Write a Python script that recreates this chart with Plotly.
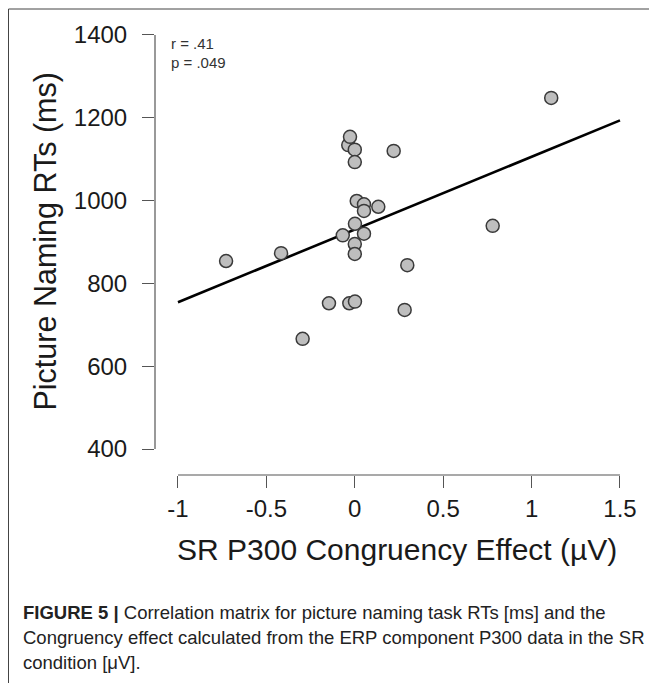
import numpy as np
import plotly.graph_objects as go

# ---- data ----
p300_effect = [-0.728, -0.417, -0.295, -0.146, -0.068, -0.037, -0.027, -0.031,
               0.0, 0.0, 0.001, 0.0, 0.0, 0.001, 0.011, 0.052,
               0.052, 0.052, 0.133, 0.22, 0.282, 0.297, 0.78, 1.111]
naming_rt = [854, 873, 666, 752, 916, 1134, 1154, 752,
             1123, 1093, 944, 895, 871, 756, 999, 991,
             975, 920, 985, 1120, 736, 844, 939, 1248]
x_ticks = [-1, -0.5, 0, 0.5, 1, 1.5]
x_tick_labels = ["-1", "-0.5", "0", "0.5", "1", "1.5"]
y_ticks = [400, 600, 800, 1000, 1200, 1400]
y_tick_labels = ["400", "600", "800", "1000", "1200", "1400"]
stats_text = ["r = .41", "p = .049"]
x_title = "SR P300 Congruency Effect (µV)"
y_title = "Picture Naming RTs (ms)"
caption_lines = [
    "<b>FIGURE 5 |</b> Correlation matrix for picture naming task RTs [ms] and the",
    "Congruency effect calculated from the ERP component P300 data in the SR",
    "condition [μV].",
]

# regression line fitted from the data
slope, intercept = np.polyfit(p300_effect, naming_rt, 1)
fit_x = [x_ticks[0], x_ticks[-1]]
fit_y = [intercept + slope * v for v in fit_x]

# page body has an 8px margin, so the figure is drawn 8px in from the window edge
OFF = 8
W, H = 657 - OFF, 683 - OFF
L, R, T, B = 147, 27, 22, 208
pw, ph = W - L - R, H - T - B

def px(xp):  # window x pixel -> paper coordinate
    return (xp - OFF - L) / pw

def py(yp):  # window y pixel -> paper coordinate
    return (H - B - (yp - OFF)) / ph

FONT = "Liberation Sans, Arial, Helvetica, sans-serif"
AX = "#555555"

fig = go.Figure()
fig.add_trace(go.Scatter(x=fit_x, y=fit_y, mode="lines",
                         line=dict(color="black", width=2.6),
                         hoverinfo="skip", showlegend=False))
fig.add_trace(go.Scatter(x=p300_effect, y=naming_rt, mode="markers",
                         marker=dict(size=13, color="#bebebe",
                                     line=dict(color="#3a3a3a", width=1.5)),
                         showlegend=False))

fig.update_layout(
    width=W, height=H,
    margin=dict(l=L, r=R, t=T, b=B),
    paper_bgcolor="white", plot_bgcolor="white",
    font=dict(family=FONT, color="#1a1a1a"),
    xaxis=dict(range=[-1.130, 1.5566], tickvals=x_ticks, ticktext=x_tick_labels,
               ticks="outside", ticklen=12, tickwidth=1.2, tickcolor=AX,
               showgrid=False, zeroline=False, showline=False,
               tickfont=dict(size=24, family=FONT, color="#1a1a1a")),
    yaxis=dict(range=[337.2, 1412], tickvals=y_ticks, ticktext=y_tick_labels,
               ticks="outside", ticklen=12, tickwidth=1.2, tickcolor=AX,
               ticklabelstandoff=10,
               showgrid=False, zeroline=False, showline=False,
               tickfont=dict(size=24, family=FONT, color="#1a1a1a")),
    shapes=[
        # offset axis lines (R style)
        dict(type="line", xref="x", yref="paper", x0=x_ticks[0], x1=x_ticks[-1],
             y0=0, y1=0, line=dict(color=AX, width=1.2)),
        dict(type="line", xref="paper", yref="y", x0=0, x1=0,
             y0=y_ticks[0], y1=y_ticks[-1], line=dict(color=AX, width=1.2)),
        # figure frame (left and top)
        dict(type="line", xref="paper", yref="paper", x0=px(8.5), x1=px(8.5),
             y0=py(9), y1=py(720), line=dict(color="#444444", width=1)),
        dict(type="line", xref="paper", yref="paper", x0=px(8.5), x1=px(720),
             y0=py(9), y1=py(9), line=dict(color="#444444", width=1)),
    ],
)

ann = []
ann.append(dict(text=y_title, xref="paper", yref="paper", x=px(45), y=py(241.5),
                textangle=-90, showarrow=False, xanchor="center", yanchor="middle",
                font=dict(size=30.5, family=FONT, color="#1a1a1a")))
ann.append(dict(text=x_title, xref="paper", yref="paper", x=px(397), y=py(549),
                showarrow=False, xanchor="center", yanchor="middle",
                font=dict(size=30, family=FONT, color="#1a1a1a")))
for i, t in enumerate(stats_text):
    ann.append(dict(text=t, xref="paper", yref="paper", x=px(169), y=py(43 + 19.5 * i),
                    showarrow=False, xanchor="left", yanchor="middle",
                    font=dict(size=15, family=FONT, color="#333333")))
for i, t in enumerate(caption_lines):
    ann.append(dict(text=t, xref="paper", yref="paper", x=px(21), y=py(612 + 25 * i),
                    showarrow=False, xanchor="left", yanchor="middle",
                    font=dict(size=18.5, family=FONT, color="#222222")))
fig.update_layout(annotations=ann)

fig.write_html("out.html")
